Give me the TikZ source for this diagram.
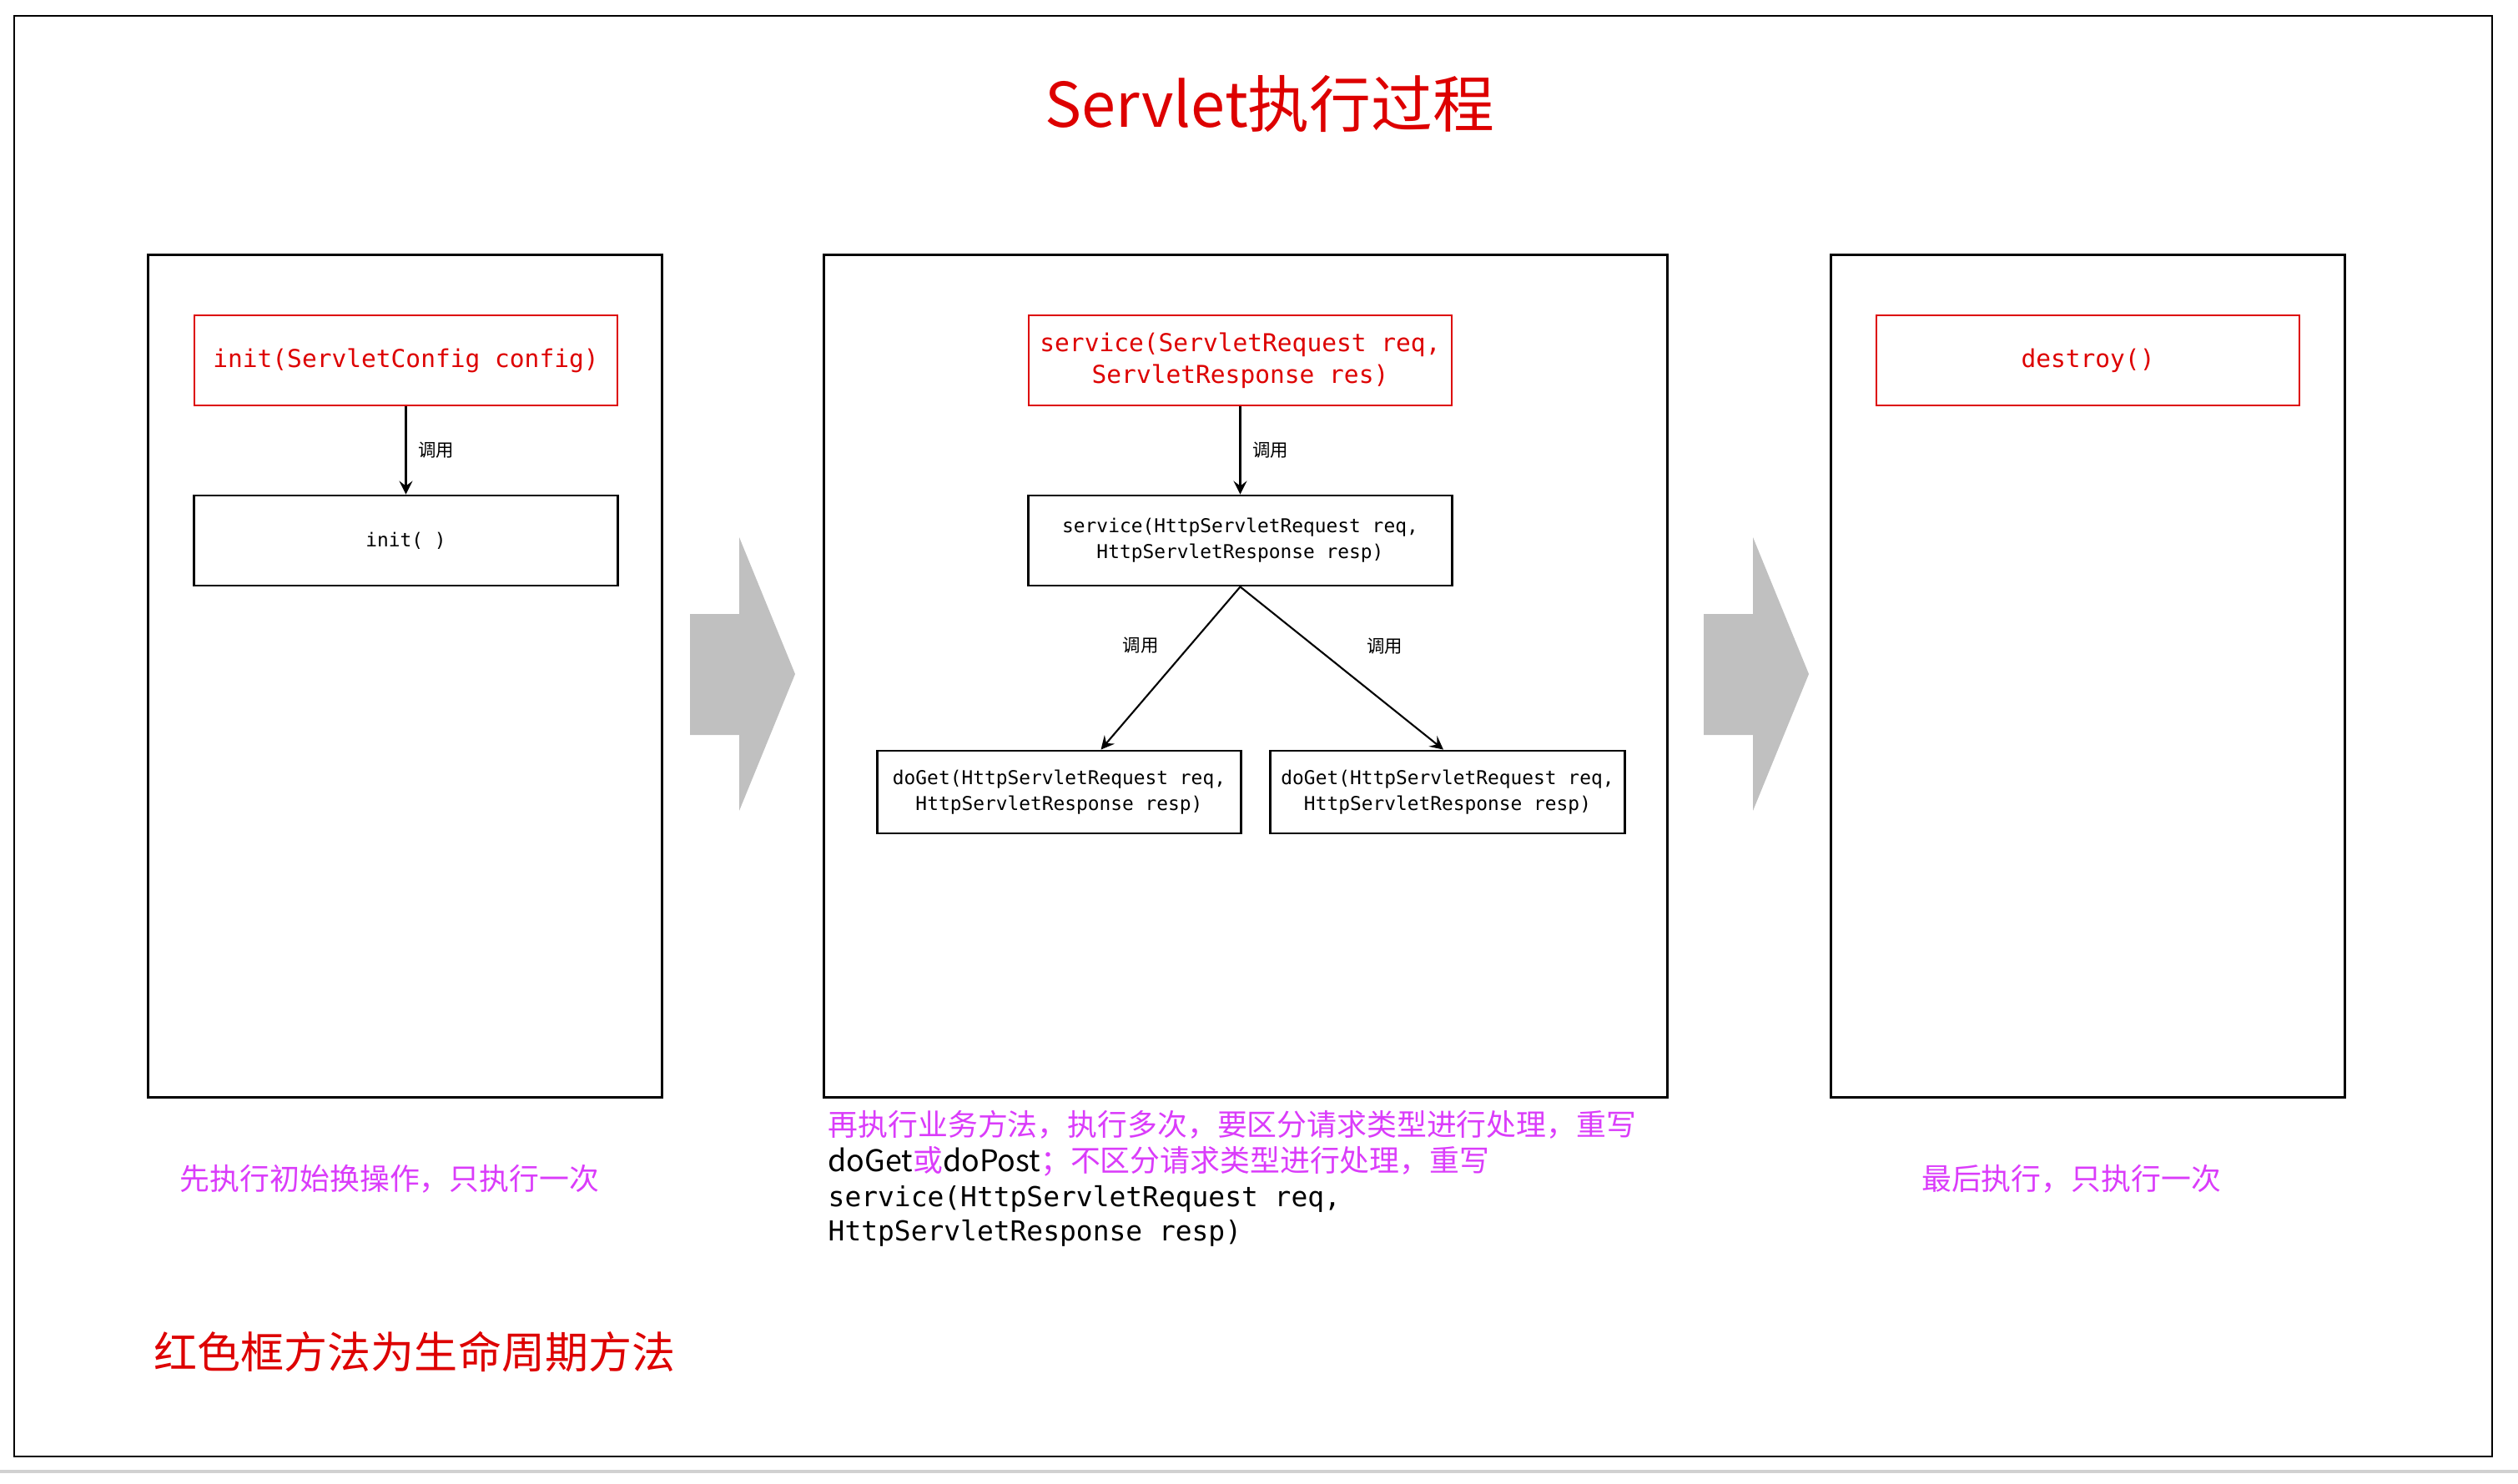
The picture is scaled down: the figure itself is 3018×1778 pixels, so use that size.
\documentclass[tikz,border=0pt]{standalone}
\usepackage{fontspec}
\setmainfont{Noto Sans CJK SC}
\setmonofont{DejaVu Sans Mono}
\usepackage{tikz}
\usetikzlibrary{arrows.meta, positioning, calc}
\definecolor{lifeRed}{RGB}{221,0,0}
\definecolor{notePurple}{RGB}{218,60,250}
\definecolor{arrowGrey}{RGB}{192,192,192}
\tikzstyle{frameLine}=[line width=0.8pt]
\tikzstyle{panelBox}=[draw, line width=0.8pt, minimum height=10.09cm, inner sep=0pt]
\tikzstyle{lifeBox}=[draw=lifeRed, line width=0.7pt, text=lifeRed, minimum width=5.07cm, minimum height=1.08cm, inner sep=0pt, align=center, font=\ttfamily\fontsize{8.4}{10.8}\selectfont]
\tikzstyle{callBox}=[draw, line width=0.8pt, inner sep=0pt, align=center, font=\ttfamily\fontsize{6.5}{8.8}\selectfont]
\tikzstyle{callArrow}=[line width=0.6pt, -{Stealth[length=1.6mm,width=1.6mm,inset=0.6mm]}]
\tikzstyle{callLabel}=[font=\fontsize{6.1}{7}\selectfont, inner sep=1pt]
\tikzstyle{noteText}=[text=notePurple, inner sep=0pt, font=\fontsize{10.2}{12}\selectfont]

\begin{document}
\begin{tikzpicture}[x=0.01cm, y=-0.01cm]
    \useasboundingbox (0, 0) rectangle (3018, 1778);
    % Frame
    \draw[frameLine] (17, 19) rectangle (2987, 1746);
    \draw[line width=0.9pt, color=black!18] (0, 1764) -- (3018, 1764);
    \node[text=lifeRed, font=\fontsize{21}{25}\selectfont] (title) at (1522, 125) {Servlet执行过程};

    % Panels
    \node[panelBox, minimum width=6.15cm] (initPanel) at (485.5, 810.5) {};
    \node[panelBox, minimum width=10.1cm] (servicePanel) at (1493, 810.5) {};
    \node[panelBox, minimum width=6.15cm] (destroyPanel) at (2502.5, 810.5) {};

    % Grey step arrows
    \foreach \ax in {827, 2042} {
        \fill[arrowGrey] (\ax, 736) -- (\ax+59, 736) -- (\ax+59, 644) -- (\ax+126, 808)
            -- (\ax+59, 972) -- (\ax+59, 881) -- (\ax, 881) -- cycle;
    }

    % Init Nodes
    \node[lifeBox] (initCfg) at (486.5, 432) {init(ServletConfig config)};
    \node[callBox, minimum width=5.07cm, minimum height=1.08cm] (initPlain) at (486.5, 648) {init( )};

    % Service Nodes
    \node[lifeBox] (serviceReq) at (1486.5, 432) {service(ServletRequest req,\\ServletResponse res)};
    \node[callBox, minimum width=5.07cm, minimum height=1.08cm] (serviceHttp) at (1486.5, 648) {service(HttpServletRequest req,\\HttpServletResponse resp)};
    \node[callBox, minimum width=4.35cm, minimum height=0.99cm] (doGetL) at (1269.5, 949.5) {doGet(HttpServletRequest req,\\HttpServletResponse resp)};
    \node[callBox, minimum width=4.24cm, minimum height=0.99cm] (doGetR) at (1735, 949.5) {doGet(HttpServletRequest req,\\HttpServletResponse resp)};

    % Destroy Node
    \node[lifeBox] (destroyM) at (2502.5, 432) {destroy()};

    % Call Arcs
    \draw[callArrow] (initCfg) -- node [midway, right=1mm, callLabel] {调用} (initPlain);
    \draw[callArrow] (serviceReq) -- node [midway, right=1mm, callLabel] {调用} (serviceHttp);
    \draw[callArrow] (serviceHttp.south) -- node [pos=0.36, left=3.3mm, callLabel] {调用} ([xshift=0.5cm]doGetL.north);
    \draw[callArrow] (serviceHttp.south) -- node [pos=0.364, right=5.85mm, callLabel] {调用} ([xshift=-0.05cm]doGetR.north);

    % Notes
    \node[noteText] (initNote) at (467, 1413) {先执行初始换操作，只执行一次};
    \node[noteText, anchor=west] (serviceNote1) at (992, 1348) {再执行业务方法，执行多次，要区分请求类型进行处理，重写};
    \node[noteText, anchor=west] (serviceNote2) at (992, 1392) {\textcolor{black}{doGet}或\textcolor{black}{doPost}；不区分请求类型进行处理，重写};
    \node[inner sep=0pt, anchor=west, font=\ttfamily\fontsize{9.36}{11}\selectfont] (serviceNote3) at (992, 1437) {service(HttpServletRequest req,};
    \node[inner sep=0pt, anchor=west, font=\ttfamily\fontsize{9.36}{11}\selectfont] (serviceNote4) at (992, 1478) {HttpServletResponse resp)};
    \node[noteText] (destroyNote) at (2482.5, 1413) {最后执行，只执行一次};
    \node[text=lifeRed, inner sep=0pt, anchor=west, font=\fontsize{14.8}{17}\selectfont] (lifeNote) at (184, 1621) {红色框方法为生命周期方法};
\end{tikzpicture}
\end{document}
